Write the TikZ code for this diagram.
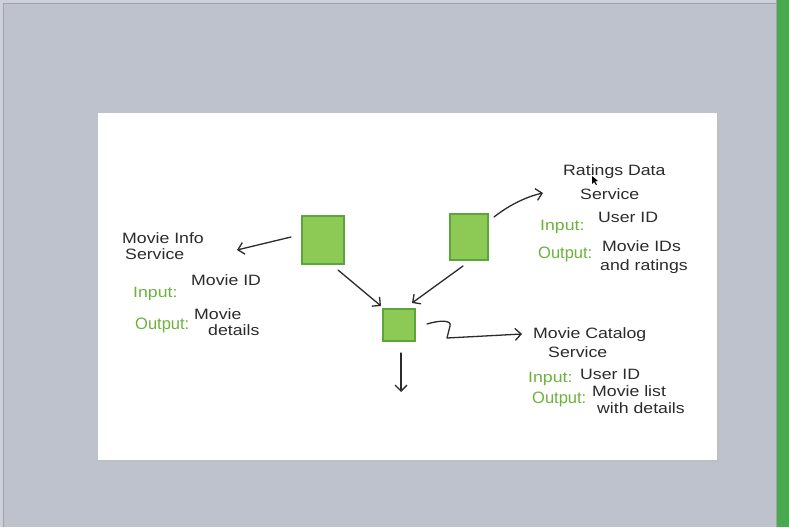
\documentclass[tikz,border=0pt]{standalone}
\usepackage{fontspec}
\setmainfont{Liberation Sans}
\usetikzlibrary{arrows.meta}
\definecolor{bgc}{HTML}{BDC2CD}
\definecolor{stripc}{HTML}{CDD0D8}
\definecolor{edgec}{HTML}{9EA3AE}
\definecolor{barc}{HTML}{48A94F}
\definecolor{sqfill}{HTML}{8CC955}
\definecolor{sqdraw}{HTML}{5CA53A}
\definecolor{inkc}{HTML}{2B2B2B}
\definecolor{greentext}{HTML}{6DB23C}
\newcommand{\hwt}[1]{\scalebox{1.18}[1]{#1}}
\tikzset{
  sq/.style={draw=sqdraw, fill=sqfill, line width=2pt, inner sep=0pt},
  ink/.style={draw=inkc, line width=1.3pt, line cap=round, line join=round},
  arr/.style={ink, -{Straight Barb[length=6pt,width=12pt,line width=1.3pt]}},
  hw/.style={inner sep=0pt, anchor=base west, text=inkc, font=\fontsize{15}{17}\selectfont},
  hwg/.style={hw, text=greentext},
  hwo/.style={hwg, font=\fontsize{16.5}{18}\selectfont},
}
\begin{document}
\begin{tikzpicture}[x=1pt,y=-1pt]
\useasboundingbox (0,0) rectangle (789,527);
% background
\fill[bgc] (0,0) rectangle (789,527);
\fill[stripc] (0,0) rectangle (789,3);
\fill[stripc] (0,0) rectangle (3,527);
\draw[edgec, line width=0.8pt] (3,3.5) -- (776,3.5);
\draw[edgec, line width=0.8pt] (3.5,3) -- (3.5,527);
\fill[barc] (777,0) rectangle (789,527);
\draw[edgec, line width=0.8pt] (776,0) -- (776,527);
% canvas
\fill[black!25] (99,114) rectangle (718.5,461.5);
\fill[white] (98,113) rectangle (717,460);
% squares
\node[sq, minimum width=42pt, minimum height=48pt] (info) at (323,240) {};
\node[sq, minimum width=38pt, minimum height=46pt] (ratings) at (469,237) {};
\node[sq, minimum width=32pt, minimum height=32pt] (catalog) at (399,325) {};
% texts: Movie Info
\node[hw] (t1a) at (122,243) {\hwt{Movie Info}};
\node[hw] (t1b) at (125,259) {\hwt{Service}};
\node[hwg] (t1c) at (133,297) {\hwt{Input:}};
\node[hw] (t1d) at (191,285) {\hwt{Movie ID}};
\node[hwo] (t1e) at (135,329) {Output:};
\node[hw] (t1f) at (194,319) {\hwt{Movie}};
\node[hw] (t1g) at (208,335) {\hwt{details}};
% Ratings Data
\node[hw] (t2a) at (563,175) {\hwt{Ratings Data}};
\node[hw] (t2b) at (580,199) {\hwt{Service}};
\node[hwg] (t2c) at (540,230) {\hwt{Input:}};
\node[hw] (t2d) at (598,222) {\hwt{User ID}};
\node[hwo] (t2e) at (538,258) {Output:};
\node[hw] (t2f) at (602,251) {\hwt{Movie IDs}};
\node[hw] (t2g) at (600,270) {\hwt{and ratings}};
% Movie Catalog
\node[hw] (t3a) at (533,338) {\hwt{Movie Catalog}};
\node[hw] (t3b) at (548,357) {\hwt{Service}};
\node[hwg] (t3c) at (528,382) {\hwt{Input:}};
\node[hw] (t3d) at (580,379) {\hwt{User ID}};
\node[hwo] (t3e) at (532,403) {Output:};
\node[hw] (t3f) at (592,396) {\hwt{Movie list}};
\node[hw] (t3g) at (597,413) {\hwt{with details}};
% cursor
\fill[black] (592,176) -- (592,184) -- (594,182) -- (596,185) -- (597,184.5) -- (595,181.5) -- (598,181) -- cycle;
% connector end points
\coordinate (e1) at (237,250);
\coordinate (e2) at (543,193);
\coordinate (e3) at (401,392);
\coordinate (e4) at (522,334);
% connectors
\draw[arr] ([xshift=-10pt,yshift=3pt]info.west) -- (e1);
\draw[arr] ([xshift=5pt,yshift=-4pt]ratings.north east) .. controls (508,206) and (525,197) .. (e2);
\draw[arr] ([xshift=-7pt,yshift=-5pt]info.south east) -- ([xshift=-1pt,yshift=2pt]catalog.north west);
\draw[arr] ([xshift=-6pt,yshift=-5pt]ratings.south) -- ([xshift=-4pt,yshift=5pt]catalog.north east);
\draw[arr] ([xshift=2pt,yshift=-11pt]catalog.south) -- (e3);
\draw[arr] ([xshift=11pt,yshift=1pt]catalog.east) .. controls (440,320) and (452,320) .. (450,326) -- (447,338) -- (e4);
\end{tikzpicture}
\end{document}
